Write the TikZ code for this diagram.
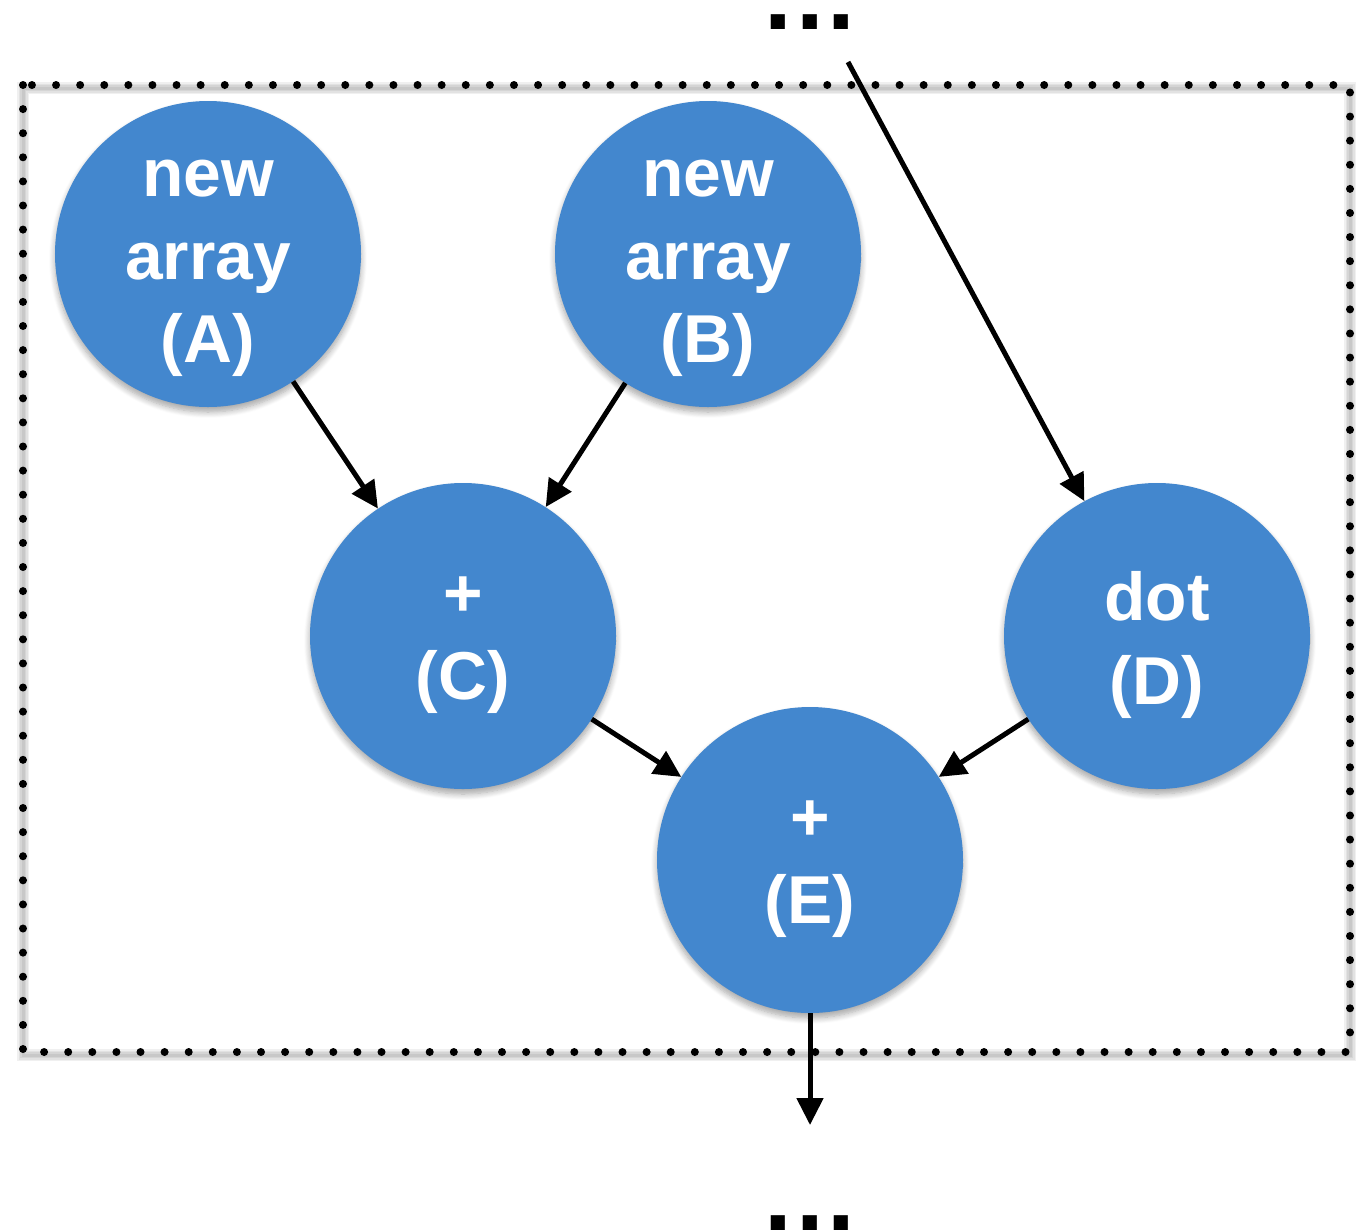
\documentclass[tikz,border=0pt]{standalone}
\usepackage{fontspec}
\setmainfont{Liberation Sans}
\usetikzlibrary{arrows.meta,shadows.blur}
\definecolor{opblue}{RGB}{67,135,206}
\tikzset{
  opnode/.style={circle, fill=opblue, minimum size=306bp, inner sep=0pt,
    blur shadow={shadow xshift=0bp, shadow yshift=-5bp, shadow blur steps=8, shadow opacity=35, shadow blur radius=6bp}},
  optext/.style={text=white, align=center, inner sep=0pt,
    font=\fontsize{68}{83.5}\selectfont\bfseries},
  threeline/.style={label={[optext, yshift=-14bp]center:#1}},
  twoline/.style={label={[optext, yshift=-9bp]center:#1}},
  flow/.style={line width=5bp, -{Triangle[length=27bp,width=26bp]}},
  region/.style={line width=8bp, line cap=round, dash pattern=on 0bp off 24.1bp},
  regionshade/.style={line width=#1, draw=black, draw opacity=0.06},
  ellip/.style={font=\fontsize{100}{100}\selectfont\bfseries, inner sep=0pt}
}
\begin{document}
\begin{tikzpicture}[x=1bp, y=-1bp]
  \useasboundingbox (0,0) rectangle (1359,1229);
  % soft shadow under the enclosing region's border
  \foreach \w in {3bp,6bp,9bp,12bp}
    \draw[regionshade=\w] (23,88) rectangle (1350,1055);
  % enclosing region
  \draw[region] (23,85) rectangle (1350,1052);
  % operations
  \node[opnode, threeline={new\\array\\(A)}] (A) at (208,254) {};
  \node[opnode, threeline={new\\array\\(B)}] (B) at (708,254) {};
  \node[opnode, twoline={+\\(C)}] (C) at (463,636) {};
  \node[opnode, twoline={dot\\(D)}] (D) at (1157,636) {};
  \node[opnode, twoline={+\\(E)}] (E) at (810,860) {};
  % continuation marks
  \node[ellip, anchor=base] (top) at (810,29) {.\hspace{4bp}.\hspace{4bp}.};
  \node[ellip, anchor=base] (bot) at (810,1230) {.\hspace{4bp}.\hspace{4bp}.};
  \coordinate (in) at (848,62);
  \coordinate (out) at (810,1125);
  % data flow
  \draw[flow] (A) -- (C);
  \draw[flow] (B) -- (C);
  \draw[flow] (in) -- (D);
  \draw[flow] (C) -- (E);
  \draw[flow] (D) -- (E);
  \draw[flow] (E) -- (out);
\end{tikzpicture}
\end{document}
